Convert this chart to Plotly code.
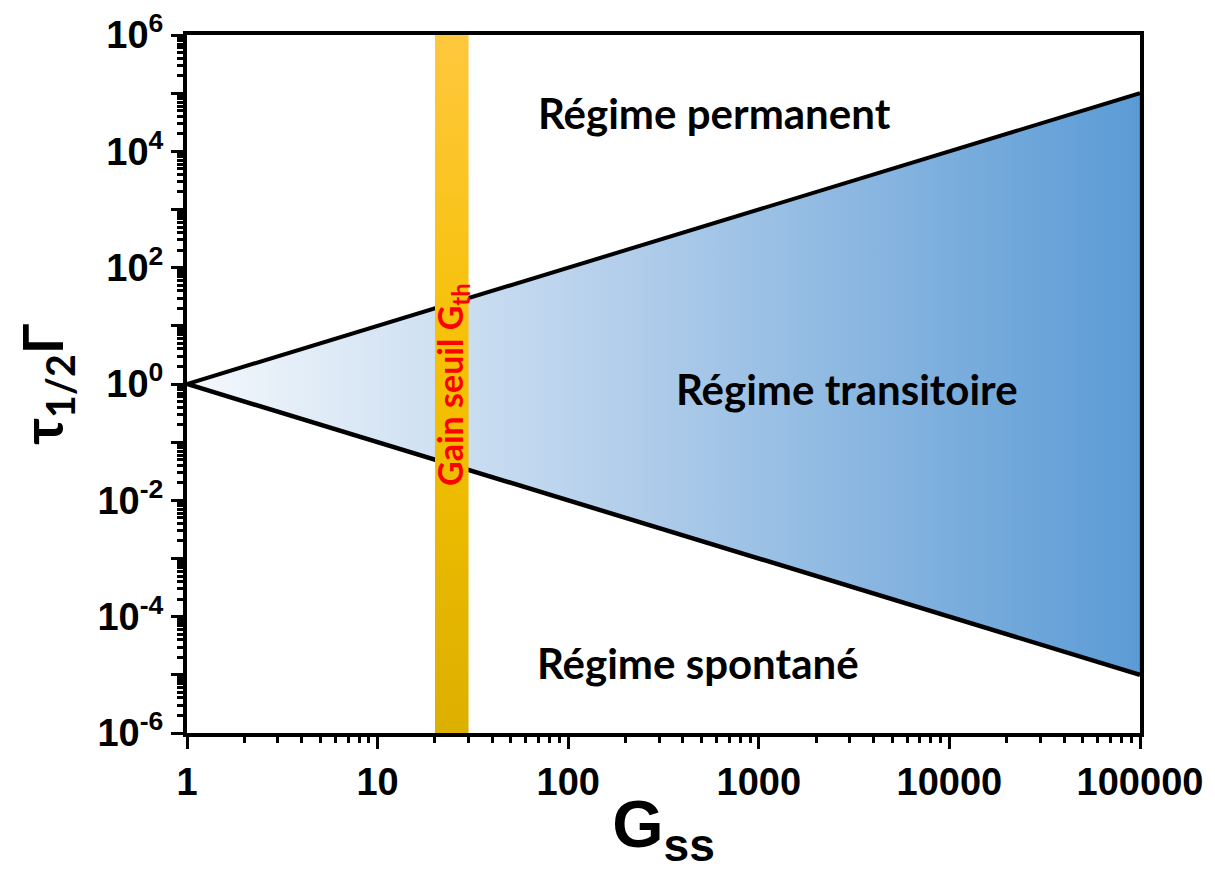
import plotly.graph_objects as go

# Data
gain = [1, 100000]                  # G_ss at the two ends of the cone
upper_bound = [1, 100000]           # tau_1/2 * Gamma, upper limit (regime permanent)
lower_bound = [1, 0.00001]          # tau_1/2 * Gamma, lower limit (regime spontane)
threshold_gain = [20, 30]           # band for the threshold gain G_th
y_limits = [0.000001, 1000000]

x_tick_vals = [1, 10, 100, 1000, 10000, 100000]
x_tick_text = ["1", "10", "100", "1000", "10000", "100000"]
y_tick_vals = [10.0 ** p for p in range(-6, 7)]
y_tick_text = ["10<sup>%d</sup>" % p if p % 2 == 0 else "" for p in range(-6, 7)]

region_labels = ["Régime permanent", "Régime transitoire", "Régime spontané"]
band_label = "Gain seuil G<sub>th</sub>"

TICK_FONT = dict(family="Arial, Liberation Sans, sans-serif", size=38, color="black", weight="bold")
TEXT_FONT = "Lato, Carlito, Calibri, sans-serif"


def minor_ticks(lo_exp, hi_exp):
    vals = []
    for d in range(lo_exp, hi_exp):
        for m in range(2, 10):
            vals.append(m * 10.0 ** d)
    return vals


fig = go.Figure()

# transient region: polygon between upper and lower bounds with horizontal gradient
cone_x = gain + gain[::-1]
cone_y = upper_bound + lower_bound[::-1]
fig.add_trace(go.Scatter(
    x=cone_x, y=cone_y, mode="lines", fill="toself",
    line=dict(color="#41719c", width=1),
    fillgradient=dict(type="horizontal",
                      colorscale=[[0, "#f4f8fc"], [0.45, "#b4cfeb"], [1, "#5b9bd5"]]),
    hoverinfo="skip", showlegend=False,
))

# the two bounds
fig.add_trace(go.Scatter(x=gain, y=upper_bound, mode="lines",
                         line=dict(color="black", width=4),
                         hoverinfo="skip", showlegend=False))
fig.add_trace(go.Scatter(x=gain, y=lower_bound, mode="lines",
                         line=dict(color="black", width=4.5),
                         hoverinfo="skip", showlegend=False))

# threshold gain band with vertical gradient
band_x = [threshold_gain[0], threshold_gain[1], threshold_gain[1], threshold_gain[0]]
band_y = [y_limits[0], y_limits[0], y_limits[1], y_limits[1]]
fig.add_trace(go.Scatter(
    x=band_x, y=band_y, mode="lines", fill="toself",
    line=dict(width=0, color="rgba(0,0,0,0)"),
    fillgradient=dict(type="vertical",
                      colorscale=[[0, "#dcb000"], [0.5, "#f5c000"], [1, "#ffc83d"]]),
    hoverinfo="skip", showlegend=False,
))

# region labels (positions in paper coordinates)
label_pos = [(0.553, 0.888), (0.6925, 0.4935), (0.536, 0.100)]
for txt, (px, py) in zip(region_labels, label_pos):
    fig.add_annotation(text=txt, x=px, y=py, xref="paper", yref="paper",
                       xanchor="center", yanchor="middle", showarrow=False,
                       font=dict(family=TEXT_FONT, size=42, color="black", weight="bold"))

fig.add_annotation(text=band_label, x=0.278, y=0.50, xref="paper", yref="paper",
                   xanchor="center", yanchor="middle",
                   showarrow=False, textangle=-90,
                   font=dict(family=TEXT_FONT, size=34, color="#ff0000", weight="bold"))

fig.update_xaxes(
    type="log", range=[0, 5], automargin=False,
    tickmode="array", tickvals=x_tick_vals, ticktext=x_tick_text,
    ticks="outside", ticklen=12, tickwidth=3, tickcolor="black",
    minor=dict(tickmode="array", tickvals=minor_ticks(0, 5), ticks="outside",
               ticklen=6, tickwidth=3, tickcolor="black"),
    showline=True, linewidth=4, linecolor="black", mirror=True,
    showgrid=False, zeroline=False,
    tickfont=TICK_FONT,
    title=dict(text="G<sub>ss</sub>", standoff=0,
               font=dict(family="Arial, Liberation Sans, sans-serif", size=66,
                         color="black", weight="bold")),
)
fig.update_yaxes(
    type="log", range=[-6, 6], automargin=False,
    tickmode="array", tickvals=y_tick_vals, ticktext=y_tick_text,
    ticks="outside", ticklen=12, tickwidth=3, tickcolor="black",
    minor=dict(tickmode="array", tickvals=minor_ticks(-6, 6), ticks="outside",
               ticklen=6, tickwidth=3, tickcolor="black"),
    showline=True, linewidth=4, linecolor="black", mirror=True,
    showgrid=False, zeroline=False,
    tickfont=TICK_FONT,
    title=dict(text="τ<sub>1/2</sub>Γ", standoff=54,
               font=dict(family=TEXT_FONT, size=56, color="black", weight="bold")),
)

# the page body adds an 8 px offset, so the margins are trimmed on the left/top
fig.update_layout(
    width=1215, height=874,
    margin=dict(l=179, r=83, t=27, b=149),
    plot_bgcolor="white", paper_bgcolor="white",
    showlegend=False,
)

fig.write_html("out.html")
